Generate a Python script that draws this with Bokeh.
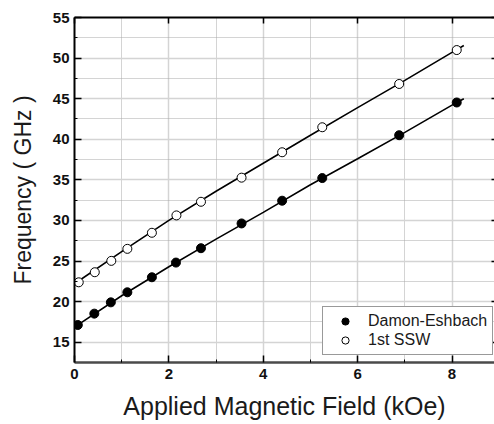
from bokeh.plotting import figure
from bokeh.models import Range1d, FixedTicker, LinearAxis, Legend, LegendItem, CustomJSTickFormatter
from bokeh.embed import file_html
from bokeh.resources import INLINE

# ---- data ----
x_de = [0.07, 0.42, 0.77, 1.12, 1.64, 2.15, 2.68, 3.54, 4.40, 5.25, 6.88, 8.10]
y_de = [17.12, 18.52, 19.91, 21.15, 23.0, 24.81, 26.58, 29.63, 32.43, 35.22, 40.5, 44.53]
x_ssw = [0.09, 0.43, 0.78, 1.12, 1.64, 2.16, 2.68, 3.54, 4.40, 5.25, 6.88, 8.10]
y_ssw = [22.38, 23.62, 25.02, 26.5, 28.48, 30.62, 32.3, 35.27, 38.4, 41.48, 46.81, 50.99]

fit_x = [0.0, 1.0, 2.0, 3.0, 4.0, 5.0, 6.0, 7.0, 8.0, 8.25]
de_fit_y = [16.85, 20.72, 24.3, 27.7, 31.0, 34.4, 37.6, 40.85, 44.2, 45.0]
ssw_fit_y = [22.2, 26.15, 30.0, 33.6, 37.05, 40.5, 43.9, 47.25, 50.7, 51.55]

x_ticks = [0, 2, 4, 6, 8]
x_minor = [1, 3, 5, 7]
y_ticks = [15, 20, 25, 30, 35, 40, 45, 50, 55]
y_minor = [17.5, 22.5, 27.5, 32.5, 37.5, 42.5, 47.5, 52.5]

series_names = ["Damon-Eshbach", "1st SSW"]
x_title = "Applied Magnetic Field (kOe)"
y_title = "Frequency ( GHz )"

FONT = "Liberation Sans"

p = figure(width=494, height=424, output_backend="svg", toolbar_location=None,
           x_range=Range1d(0, 8.9), y_range=Range1d(12.5, 55),
           min_border_left=74, min_border_right=0, min_border_top=17, min_border_bottom=62)
p.background_fill_color = "white"
p.border_fill_color = "white"
p.outline_line_color = None

xt = FixedTicker(ticks=x_ticks, minor_ticks=x_minor)
yt = FixedTicker(ticks=y_ticks, minor_ticks=y_minor)
p.xaxis.ticker = xt
p.yaxis.ticker = yt

# grids
for g in (p.xgrid, p.ygrid):
    g.grid_line_color = "#d4d4d4"
    g.grid_line_width = 1.5
    g.minor_grid_line_color = "#a8a8a8"
    g.minor_grid_line_width = 1
    g.minor_grid_line_dash = "1 1"
p.xgrid.ticker = xt
p.ygrid.ticker = yt

# axes
for ax in (p.xaxis, p.yaxis):
    ax.major_tick_in = 7
    ax.major_tick_out = 0
    ax.minor_tick_in = 3
    ax.minor_tick_out = 0
    ax.major_tick_line_color = "black"
    ax.minor_tick_line_color = "black"
    ax.major_tick_line_width = 1.5
    ax.major_label_text_font = FONT
    ax.major_label_text_font_style = "bold"
    ax.major_label_text_font_size = "15px"
    ax.major_label_text_color = "#111111"
    ax.axis_label_text_font = FONT
    ax.axis_label_text_font_style = "normal"
    ax.axis_label_text_color = "#1a1a1a"

p.xaxis.axis_label = x_title
p.yaxis.axis_label = y_title
p.xaxis.axis_label_text_font_size = "25px"
p.yaxis.axis_label_text_font_size = "23px"
p.xaxis.axis_line_color = "#4a4a4a"
p.xaxis.axis_line_width = 2.5
p.yaxis.axis_line_color = "black"
p.yaxis.axis_line_width = 2
p.xaxis.major_label_standoff = 6
p.xaxis.axis_label_standoff = 10
p.yaxis.major_label_standoff = 5
p.yaxis.axis_label_standoff = 14

blank = CustomJSTickFormatter(code="return ''")

# top axis (ticks only)
top = LinearAxis(ticker=xt, formatter=blank, major_label_text_font_size="1px",
                 major_label_standoff=0,
                 major_tick_in=6, major_tick_out=0, minor_tick_in=0, minor_tick_out=0,
                 axis_line_color="black", axis_line_width=2, major_tick_line_width=1.5)
p.add_layout(top, "above")
# right axis (ticks only; frame edge is cut off in the reference)
right = LinearAxis(ticker=yt, formatter=blank, major_label_text_font_size="1px",
                   major_label_standoff=0,
                   major_tick_in=3, major_tick_out=0, minor_tick_in=0, minor_tick_out=0,
                   axis_line_color=None, major_tick_line_width=1.5)
p.add_layout(right, "right")

# fit lines
p.line(fit_x, de_fit_y, line_color="black", line_width=1.6)
p.line(fit_x, ssw_fit_y, line_color="black", line_width=1.6)

# data points
r_de = p.scatter(x_de, y_de, marker="circle", size=9, fill_color="black", line_color="black")
r_ssw = p.scatter(x_ssw, y_ssw, marker="circle", size=9, fill_color="white", line_color="black",
                  line_width=1)

legend = Legend(items=[LegendItem(label=series_names[0], renderers=[r_de]),
                       LegendItem(label=series_names[1], renderers=[r_ssw])],
                location=(248, 7))
legend.padding = 5
legend.spacing = 1
legend.glyph_width = 34
legend.glyph_height = 18
legend.label_height = 18
legend.label_standoff = 6
legend.margin = 0
legend.label_text_font = FONT
legend.label_text_font_size = "16px"
legend.label_text_color = "#1a1a1a"
legend.border_line_color = "#333333"
legend.border_line_width = 1
legend.background_fill_color = "white"
legend.background_fill_alpha = 1
p.add_layout(legend, "center")

open("out.html", "w").write(file_html(p, INLINE))
